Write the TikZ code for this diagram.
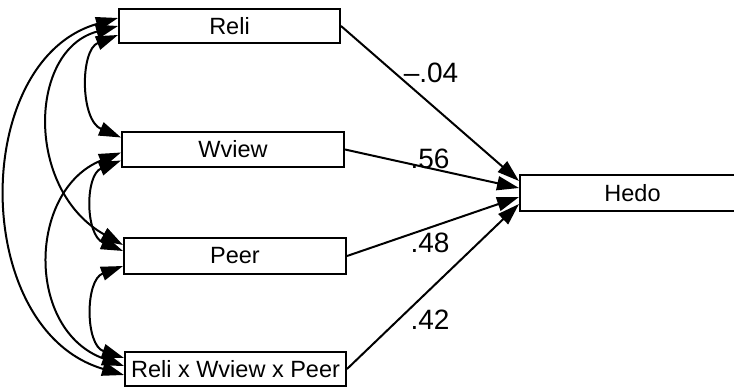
\documentclass[tikz,border=0pt]{standalone}
\usepackage{fontspec}
\setmainfont{Liberation Sans}
\usetikzlibrary{arrows.meta}
\begin{document}
\begin{tikzpicture}[x=1pt,y=-1pt,
  var/.style={draw, line width=2pt, rectangle, inner sep=0pt,
    minimum height=35pt, font=\fontsize{23.5}{27}\selectfont},
  regpath/.style={line width=2pt, -{Triangle[length=22pt,width=14pt]}},
  cov/.style={line width=2pt,
    {Triangle[length=22pt,width=14pt]}-{Triangle[length=22pt,width=14pt]}},
  coef/.style={font=\fontsize{28}{32}\selectfont, inner sep=0pt}]
\useasboundingbox (0,0) rectangle (734,387);
\fill[white] (0,0) rectangle (734,387);
\clip (0,0) rectangle (734,387);

% observed variables
\node[var, minimum width=221pt, minimum height=34pt] (reli) at (229.5,26) {Reli};
\node[var, minimum width=222pt] (wview) at (233,149.5) {Wview};
\node[var, minimum width=222pt, minimum height=36pt] (peer) at (235,256) {Peer};
\node[var, minimum width=221pt, minimum height=34pt] (rwp) at (235.5,369) {Reli x Wview x Peer};
\node[var, minimum width=225pt, minimum height=36pt] (hedo) at (632.5,193) {Hedo};

% arrow ends on the outcome box
\coordinate (h1) at ([yshift=12pt]hedo.west);
\coordinate (h2) at ([yshift=5pt]hedo.west);
\coordinate (h3) at ([yshift=-4pt]hedo.west);
\coordinate (h4) at ([yshift=-11pt]hedo.west);

% regression paths
\draw[regpath] (reli.east) -- (h1);
\draw[regpath] (wview.east) -- (h2);
\draw[regpath] (peer.east) -- (h3);
\draw[regpath] (rwp.east) -- (h4);

% path coefficients
\node[coef] (c1) at (431,73) {–.04};
\node[coef] (c2) at (430,159) {.56};
\node[coef] (c3) at (430,242.5) {.48};
\node[coef] (c4) at (430,320) {.42};

% covariances between predictors
\draw[cov] ([yshift=8pt]reli.west) .. controls (-30,60) and (-30,330) .. ([yshift=-6pt]rwp.west);
\draw[cov] ([yshift=0pt]reli.west) .. controls (28,50) and (25,190) .. ([yshift=11pt]peer.west);
\draw[cov] ([yshift=-3pt]wview.west) .. controls (28,190) and (25,330) .. ([yshift=3pt]rwp.west);
\draw[cov] ([yshift=-9pt]reli.west) .. controls (80,50) and (80,120) .. ([yshift=12pt]wview.west);
\draw[cov] ([yshift=-11pt]wview.west) .. controls (85,175) and (85,235) .. ([yshift=5pt]peer.west);
\draw[cov] ([yshift=-10pt]peer.west) .. controls (85,280) and (85,345) .. ([yshift=11pt]rwp.west);
\end{tikzpicture}
\end{document}
